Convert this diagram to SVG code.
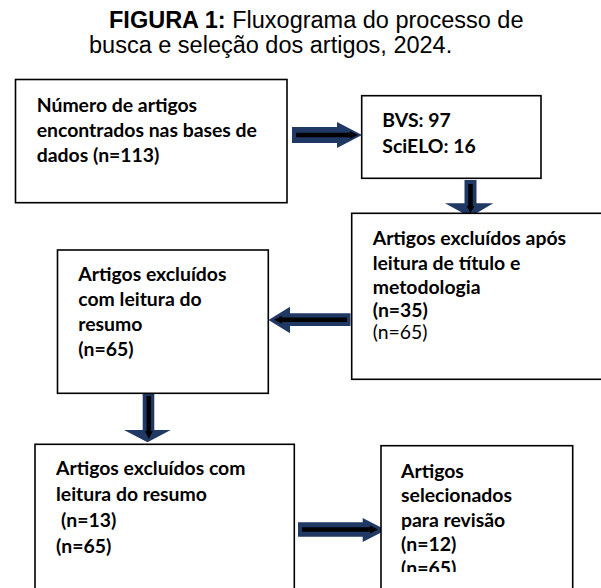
<svg xmlns="http://www.w3.org/2000/svg" width="601" height="588" viewBox="0 0 601 588">
<style>
.title{font-family:"Liberation Sans",Arial,sans-serif;font-size:23.5px;fill:#000}
.t{font-family:Lato,"Open Sans",sans-serif;font-size:19.4px;font-weight:bold;fill:#000}
.r{font-weight:normal}
.box{fill:#fff;stroke:#000;stroke-width:1.6}
.ar{fill:#203864}
.in{stroke:#000;stroke-width:4.5;fill:none}
.ih{fill:#000}
</style>
<defs>
<clipPath id="clip6"><rect x="381" y="440" width="200" height="132"/></clipPath>
</defs>
<rect width="601" height="588" fill="#fff"/>
<g id="title">
<text class="title" x="109" y="28"><tspan font-weight="bold">FIGURA 1:</tspan> Fluxograma do processo de</text>
<text class="title" x="89" y="53">busca e seleção dos artigos, 2024.</text>
</g>
<g id="connectors">
<g id="a1">
<polygon class="ar" points="292,127 337,127 337,122 362,135 337,148 337,143 292,143"/>
<line class="in" x1="296" y1="135" x2="352" y2="135"/>
<polygon class="ih" points="350,131 358,135 350,139"/>
</g>
<g id="a2">
<polygon class="ar" points="464.5,180 476.5,180 476.5,203.3 493.3,203.3 470,217 445,203.3 464.5,203.3"/>
<line class="in" x1="470.5" y1="184" x2="470.5" y2="208"/>
<polygon class="ih" points="466.5,206 474.5,206 470.5,213"/>
</g>
<g id="a3">
<polygon class="ar" points="350.5,313.3 290,313.3 290,306.7 268.5,320 290,333.3 290,326 350.5,326"/>
<line class="in" x1="347" y1="319.7" x2="280" y2="319.7"/>
<polygon class="ih" points="282,315.7 274,319.7 282,323.7"/>
</g>
<g id="a4">
<polygon class="ar" points="142.7,393.3 154.3,393.3 154.3,430 170.7,430 147.5,442.3 124,430 142.7,430"/>
<line class="in" x1="148.8" y1="396" x2="148.8" y2="433"/>
<polygon class="ih" points="144.8,431 152.8,431 148.8,439"/>
</g>
<g id="a5">
<polygon class="ar" points="298,522.3 362.7,522.3 362.7,518 386,530 362.7,542 362.7,536.7 298,536.7"/>
<line class="in" x1="302" y1="529.5" x2="372" y2="529.5"/>
<polygon class="ih" points="370,525.5 378,529.5 370,533.5"/>
</g>
</g>
<g id="n1">
<rect class="box" x="15.5" y="79.5" width="271.5" height="123.2" stroke-width="2.2"/>
<text class="t" x="36.7" y="112">Número de artigos</text>
<text class="t" x="36.7" y="137">encontrados nas bases de</text>
<text class="t" x="36.7" y="162">dados (n=113)</text>
</g>
<g id="n2">
<rect class="box" x="361.7" y="95.7" width="179.3" height="82.6"/>
<text class="t" x="382.3" y="126.7">BVS: 97</text>
<text class="t" x="382.3" y="152.7">SciELO: 16</text>
</g>
<g id="n3">
<rect class="box" x="351.7" y="213.3" width="260" height="166"/>
<text class="t" x="372.7" y="245">Artigos excluídos após</text>
<text class="t" x="372.7" y="269.5">leitura de título e</text>
<text class="t" x="372.7" y="294">metodologia</text>
<text class="t" x="372.7" y="317">(n=35)</text>
<text class="t r" x="372.7" y="339">(n=65)</text>
</g>
<g id="n4">
<rect class="box" x="57.5" y="250" width="210.8" height="143.3"/>
<text class="t" x="78.3" y="281">Artigos excluídos</text>
<text class="t" x="78.3" y="306">com leitura do</text>
<text class="t" x="78.3" y="331">resumo</text>
<text class="t" x="78.3" y="356">(n=65)</text>
</g>
<g id="n5">
<rect class="box" x="35" y="444.3" width="259.3" height="160"/>
<text class="t" x="56" y="475">Artigos excluídos com</text>
<text class="t" x="56" y="501">leitura do resumo</text>
<text class="t" x="61" y="527">(n=13)</text>
<text class="t" x="56" y="553">(n=65)</text>
</g>
<g id="n6">
<rect class="box" x="381" y="445.7" width="191.7" height="160"/>
<text class="t" x="401" y="478">Artigos</text>
<text class="t" x="401" y="502">selecionados</text>
<text class="t" x="401" y="527">para revisão</text>
<text class="t" x="401" y="551">(n=12)</text>
<text class="t" x="401" y="575" clip-path="url(#clip6)">(n=65)</text>
</g>
</svg>
